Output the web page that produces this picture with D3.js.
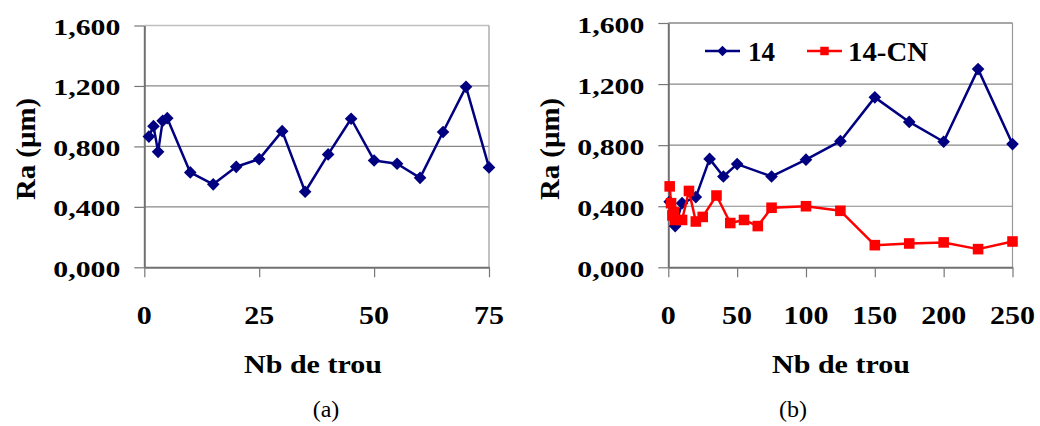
<!DOCTYPE html>
<html><head><meta charset="utf-8">
<script src="https://cdn.jsdelivr.net/npm/d3@7"></script>
<style>
body{margin:0;background:#fff}svg{display:block}
text{font-family:"Liberation Serif","Times New Roman",Times,serif;}
text.b{font-weight:bold}
</style>
</head><body>
<svg id="c" width="1040" height="426"></svg>
<script>
// ---- data ----
const yTicks = [0, 0.4, 0.8, 1.2, 1.6];
const yTickLabels = ["0,000", "0,400", "0,800", "1,200", "1,600"];
const xTicksA = [0, 25, 50, 75];
const xTicksB = [0, 50, 100, 150, 200, 250];

const holesA = [1, 2, 3, 4, 5, 10, 15, 20, 25, 30, 35, 40, 45, 50, 55, 60, 65, 70, 75];
const raA = [0.865, 0.934, 0.764, 0.969, 0.987, 0.628, 0.549, 0.665, 0.716, 0.901, 0.500, 0.747, 0.983, 0.707, 0.685, 0.592, 0.895, 1.194, 0.661];

const holes14 = [1, 5, 10, 20, 30, 40, 50, 75, 100, 125, 150, 175, 200, 225, 250];
const ra14 = [0.43, 0.27, 0.42, 0.46, 0.71, 0.595, 0.676, 0.595, 0.705, 0.826, 1.113, 0.952, 0.822, 1.298, 0.807];

const holesCN = [1, 2, 3, 4, 5, 10, 15, 20, 25, 35, 45, 55, 65, 75, 100, 125, 150, 175, 200, 225, 250];
const raCN = [0.53, 0.42, 0.34, 0.36, 0.31, 0.31, 0.50, 0.30, 0.33, 0.47, 0.29, 0.31, 0.27, 0.39, 0.40, 0.37, 0.145, 0.156, 0.163, 0.119, 0.169];

const seriesNames = ["14", "14-CN"];
const yTitle = "Ra (µm)";
const xTitle = "Nb de trou";
const captions = ["(a)", "(b)"];

// ---- drawing ----
const svg = d3.select("#c");
const BLUE = "#000080", RED = "#ff0000";

function diamond(g, pts, x, y, color, size) {
  g.selectAll(null).data(pts).join("path")
    .attr("d", d3.symbol().type(d3.symbolSquare).size(size))
    .attr("transform", d => `translate(${x(d[0])},${y(d[1])}) rotate(45)`)
    .attr("fill", color);
}
function square(g, pts, x, y, color, size) {
  g.selectAll(null).data(pts).join("path")
    .attr("d", d3.symbol().type(d3.symbolSquare).size(size))
    .attr("transform", d => `translate(${x(d[0])},${y(d[1])})`)
    .attr("fill", color);
}

function panel(o) {
  const g = svg.append("g");
  const x = d3.scaleLinear().domain([0, o.xMax]).range([o.x0, o.x1]);
  const y = d3.scaleLinear().domain([0, 1.6]).range([o.yb, o.yt]);

  g.selectAll(null).data(yTicks.filter(v => v > 0 && v < 1.6)).join("line")
    .attr("x1", o.x0).attr("x2", o.x1)
    .attr("y1", d => y(d)).attr("y2", d => y(d))
    .attr("stroke", "#888").attr("stroke-width", 1.2);
  g.append("line").attr("x1", o.x0).attr("x2", o.x1).attr("y1", y(1.6)).attr("y2", y(1.6))
    .attr("stroke", o.topColor).attr("stroke-width", 1.5);
  g.append("line").attr("x1", o.x1).attr("x2", o.x1).attr("y1", y(1.6)).attr("y2", y(0))
    .attr("stroke", "#999").attr("stroke-width", 1.2);

  const ya = g.append("g").attr("transform", `translate(${o.x0},0)`)
    .call(d3.axisLeft(y).tickValues(yTicks).tickSize(10).tickSizeOuter(0).tickFormat(""));
  const xa = g.append("g").attr("transform", `translate(0,${o.yb})`)
    .call(d3.axisBottom(x).tickValues(o.xTicks).tickSize(10).tickSizeOuter(0).tickFormat(""));
  [ya, xa].forEach(a => {
    a.select(".domain").attr("stroke", "#707070").attr("stroke-width", 2);
    a.selectAll(".tick line").attr("stroke", "#777").attr("stroke-width", 1.2);
  });

  g.selectAll(null).data(yTicks).join("text").attr("class", "b")
    .attr("x", o.x0 - 24).attr("y", d => y(d) + 9.5)
    .attr("text-anchor", "end").attr("font-size", 24)
    .attr("textLength", 67).attr("lengthAdjust", "spacingAndGlyphs")
    .text((d, i) => yTickLabels[i]);
  g.selectAll(null).data(o.xTicks).join("text").attr("class", "b")
    .attr("x", d => x(d)).attr("y", 323.5)
    .attr("text-anchor", "middle").attr("font-size", 25)
    .attr("textLength", d => 15 * String(d).length).attr("lengthAdjust", "spacingAndGlyphs")
    .text(d => String(d));

  g.append("text").attr("class", "b").attr("x", o.xTitleX).attr("y", 373)
    .attr("text-anchor", "middle").attr("font-size", 25.5)
    .attr("textLength", 138).attr("lengthAdjust", "spacingAndGlyphs")
    .text(xTitle);
  g.append("text").attr("class", "b")
    .attr("transform", `translate(${o.yTitleX},149) rotate(-90)`)
    .attr("text-anchor", "middle").attr("font-size", 28)
    .attr("textLength", 102).attr("lengthAdjust", "spacingAndGlyphs")
    .text(yTitle);
  g.append("text").attr("x", o.capX).attr("y", 417)
    .attr("text-anchor", "middle").attr("font-size", 24)
    .text(o.caption);

  return { g, x, y };
}

function drawLine(g, xs, ys, x, y, color) {
  const pts = xs.map((v, i) => [v, ys[i]]);
  g.append("path").datum(pts)
    .attr("d", d3.line().x(d => x(d[0])).y(d => y(d[1])))
    .attr("fill", "none").attr("stroke", color).attr("stroke-width", 2.5)
    .attr("stroke-linejoin", "round");
  return pts;
}

const A = panel({ x0: 144.3, x1: 489, yt: 25.5, yb: 267.3, xMax: 75, xTicks: xTicksA,
  topColor: "#c0c0c0", xTitleX: 313, yTitleX: 35, capX: 326, caption: captions[0] });
const ptsA = drawLine(A.g, holesA, raA, A.x, A.y, BLUE);
diamond(A.g, ptsA, A.x, A.y, BLUE, 80);

const B = panel({ x0: 668.3, x1: 1012.5, yt: 23, yb: 267.3, xMax: 250, xTicks: xTicksB,
  topColor: "#888", xTitleX: 841, yTitleX: 559, capX: 793, caption: captions[1] });
const pts14 = drawLine(B.g, holes14, ra14, B.x, B.y, BLUE);
diamond(B.g, pts14, B.x, B.y, BLUE, 80);
const ptsCN = drawLine(B.g, holesCN, raCN, B.x, B.y, RED);
square(B.g, ptsCN, B.x, B.y, RED, 112);

const lg = svg.append("g");
const legendItems = [
  { name: seriesNames[0], color: BLUE, lx: 705, tx: 748, tl: 27, shape: "d" },
  { name: seriesNames[1], color: RED, lx: 807, tx: 848, tl: 80, shape: "s" }
];
legendItems.forEach(it => {
  lg.append("line").attr("x1", it.lx).attr("x2", it.lx + 35).attr("y1", 51).attr("y2", 51)
    .attr("stroke", it.color).attr("stroke-width", 2.5);
  lg.append("path")
    .attr("d", d3.symbol().type(d3.symbolSquare).size(it.shape === "d" ? 55 : 72))
    .attr("transform", `translate(${it.lx + 17.5},51)` + (it.shape === "d" ? " rotate(45)" : ""))
    .attr("fill", it.color);
  lg.append("text").attr("class", "b").attr("x", it.tx).attr("y", 61)
    .attr("font-size", 28)
    .attr("textLength", it.tl).attr("lengthAdjust", "spacingAndGlyphs")
    .text(it.name);
});
</script>
</body></html>
